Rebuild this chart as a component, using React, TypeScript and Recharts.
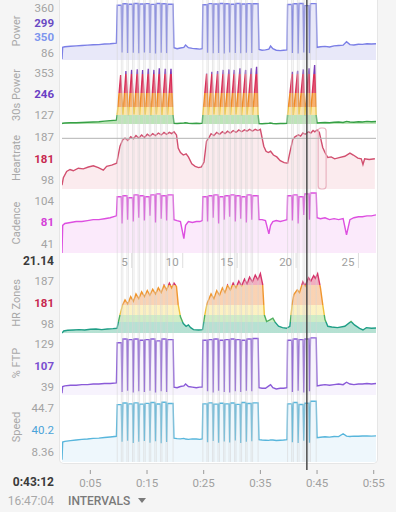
import React from 'react';
import { ComposedChart, LineChart, Line, Area, XAxis, YAxis, ReferenceLine, ReferenceArea } from 'recharts';

type Pt = [number, number];

const FONT = 'Roboto, "Noto Sans", sans-serif';
const W = 396;

// ---------- time axis ----------
const T_DOMAIN: [number, number] = [0, 55.4];
const TIME_TICKS = [5, 15, 25, 35, 45, 55];
const TIME_TICK_LABELS = ['0:05', '0:15', '0:25', '0:35', '0:45', '0:55'];
const CURSOR_T = 43.2;
const SELECTED_LAP = [45.2, 46.6];
const HR_REF = 172.6;

// distance axis (km reached at time t)
const DIST_KM = [5, 10, 15, 20, 25];
const DIST_T = [12.3, 21.3, 30.9, 41.3, 52.3];

// ---------- workout structure ----------
const BLOCK_STARTS = [
  [9.75, 10.74, 11.72, 12.71, 13.69, 14.68, 15.66, 16.65, 17.63, 18.62],
  [24.85, 25.83, 26.8, 27.78, 28.75, 29.73, 30.7, 31.68, 32.65, 33.63],
  [39.8, 40.81, 41.82, 42.83, 43.84],
];
const BLOCK_OFFS = [
  [10.47, 11.46, 12.44, 13.43, 14.41, 15.4, 16.38, 17.37, 18.35, 19.6],
  [25.57, 26.55, 27.52, 28.5, 29.47, 30.45, 31.42, 32.4, 33.37, 34.6],
  [40.52, 41.53, 42.54, 43.55, 44.85],
];
const T_WARM = [0, 0.12, 0.5, 1.5, 2.5, 3.5, 4.5, 5.5, 6.5, 7.5, 8.5, 9.6];
const T_STEADY = [
  [19.75, 20.3, 20.9, 21.5, 21.8, 22.3, 23.0, 23.7, 24.3, 24.75],
  [34.75, 35.3, 35.9, 36.5, 36.8, 37.2, 37.8, 38.5, 39.1, 39.7],
  [45.0, 45.6, 46.4, 47.2, 48.0, 48.8, 49.6, 50.2, 50.8, 51.5, 52.3, 53.0, 53.8, 54.6, 55.4],
];

// ---------- Power ----------
const POWER_WARM = [55, 120, 123, 126, 128, 130, 132, 134, 135, 138, 140, 143];
const POWER_HIGH = [
  [352, 360, 358, 362, 359, 361, 357, 362, 360, 358],
  [355, 361, 359, 362, 360, 358, 362, 359, 361, 360],
  [356, 360, 362, 350, 361],
];
const POWER_LOW = [
  [92, 88, 90, 87, 91, 88, 86, 90, 88],
  [90, 87, 89, 86, 91, 88, 87, 90, 89],
  [89, 86, 91, 88],
];
const POWER_STEADY = [
  [118, 112, 116, 120, 133, 118, 114, 112, 110, 112],
  [108, 104, 106, 110, 127, 112, 104, 102, 104, 106],
  [120, 123, 125, 122, 128, 130, 132, 151, 135, 133, 137, 136, 140, 138, 140],
];

// ---------- 30s Power ----------
const P30_WARM = [126, 127, 128, 129, 129, 130, 131, 132, 133, 135, 137, 139];
const P30_PEAK_T = [
  [10.35, 11.29, 12.29, 13.29, 14.23, 15.23, 16.23, 17.17, 18.23, 19.23],
  [25.52, 26.46, 27.46, 28.46, 29.46, 30.4, 31.4, 32.4, 33.4, 34.34],
  [40.64, 41.58, 42.58, 43.58, 44.58],
];
const P30_PEAK = [
  [314, 330, 334, 336, 334, 338, 334, 340, 338, 338],
  [320, 327, 330, 334, 336, 334, 340, 334, 340, 346],
  [327, 331, 336, 340, 353],
];
const P30_TROUGH = [
  [164, 160, 158, 161, 159, 160, 158, 161, 159, 160, 158],
  [163, 159, 161, 158, 160, 159, 161, 158, 160, 159, 160],
  [162, 159, 161, 158, 160, 159],
];
const P30_STEADY = [
  [127, 126, 127, 128, 129, 127, 126, 127, 126, 127],
  [126, 125, 126, 127, 128, 126, 125, 126, 126, 127],
  [128, 129, 130, 129, 131, 132, 130, 134, 132, 131, 133, 132, 134, 133, 134],
];

// ---------- Heartrate ----------
const HR_T = [
  0, 0.24, 0.82, 1.41, 2.0, 2.88, 3.76, 4.65, 5.53, 6.41, 7.29, 7.88, 8.76, 9.65,
  10.23, 10.7,
  11.12, 11.6, 12.12, 12.6, 13.05, 13.55, 14.05, 14.55, 15.05, 15.5, 16.0, 16.5, 17.0, 17.5, 18.0, 18.45, 18.94, 19.35, 19.76,
  20.2, 20.5, 20.9, 21.4, 21.9, 22.3, 22.9, 23.5, 24.1, 24.6, 25.05,
  25.5, 26.0, 26.3, 26.8, 27.3, 27.8, 28.3, 28.75, 29.2, 29.7, 30.2, 30.7, 31.2, 31.7, 32.2, 32.65, 33.1, 33.6, 34.1, 34.55, 35.0,
  35.6, 36.0, 36.4, 36.8, 37.3, 37.9, 38.5, 39.2, 39.8, 40.2,
  40.7, 41.1, 41.7, 42.1, 42.5, 42.9, 43.5, 43.9, 44.3, 44.6, 45.0, 45.4,
  46.0, 46.4, 46.9, 47.5, 48.1, 48.9, 49.9, 50.8, 51.4, 52.2, 52.8, 53.1, 53.4, 54.2, 55.2,
];
const HR_V = [
  98, 110, 120, 123, 121, 125, 124, 127, 129, 126, 122, 128, 130, 133,
  160, 170,
  173, 169, 175, 172, 177, 173, 178, 174, 179, 176, 180, 177, 181, 178, 182, 179, 182, 180, 183,
  178, 157, 150, 146, 148, 143, 132, 128, 126, 127, 135,
  168, 175, 180, 177, 182, 179, 183, 180, 184, 181, 185, 182, 186, 183, 186, 184, 187, 184, 187, 185, 187,
  160, 152, 150, 152, 146, 143, 137, 134, 133, 150,
  170, 175, 178, 176, 181, 179, 183, 181, 185, 183, 186, 182,
  158, 150, 142, 143, 140, 142, 144, 149, 146, 141, 140, 131, 140, 139, 140,
];

// ---------- Cadence ----------
const CAD_WARM = [41, 70, 72, 73, 74, 74, 75, 76, 76, 77, 78, 80];
const CAD_HIGH = [
  [100, 101, 99, 102, 101, 100, 102, 103, 101, 102],
  [100, 101, 102, 100, 101, 102, 101, 100, 102, 101],
  [101, 102, 100, 103, 104],
];
const CAD_LOW = [
  [72, 76, 74, 78, 75, 80, 73, 77, 75],
  [74, 78, 72, 76, 79, 74, 77, 73, 76],
  [75, 72, 81, 76],
];
const CAD_STEADY = [
  [76, 75, 74, 56, 70, 74, 73, 74, 74, 75],
  [76, 76, 75, 61, 70, 74, 75, 74, 75, 76],
  [78, 77, 78, 76, 77, 76, 77, 60, 76, 78, 79, 79, 80, 80, 81],
];

// ---------- HR Zones ----------
const HRZ_T = [
  0, 0.3, 1.0, 2.0, 3.0, 4.0, 5.0, 6.0, 7.0, 8.0, 9.0, 9.7,
  10.23, 10.7, 11.12, 11.6, 12.12, 12.6, 13.05, 13.55, 14.05, 14.55, 15.05, 15.5, 16.0, 16.5, 17.0, 17.5, 18.0, 18.45, 18.94, 19.35, 19.76,
  20.2, 20.5, 20.9, 21.4, 21.9, 22.3, 22.7, 23.2, 24.1, 24.8,
  25.2, 25.6, 26.3, 26.8, 27.3, 27.8, 28.3, 28.75, 29.2, 29.7, 30.2, 30.7, 31.2, 31.7, 32.2, 32.65, 33.1, 33.6, 34.1, 34.55, 35.0,
  35.4, 35.7, 36.1, 36.6, 37.2, 37.6, 38.2, 38.9, 39.6, 40.2,
  40.6, 40.9, 41.5, 41.9, 42.5, 42.9, 43.5, 43.9, 44.4, 44.7, 45.1, 45.6,
  46.0, 46.4, 46.9, 47.6, 48.6, 49.9, 51.0, 51.6, 52.5, 53.1, 53.7, 54.6, 55.4,
];
const HRZ_V = [
  98, 101, 102, 102.5, 103, 102.5, 103.5, 104, 103, 104, 104.5, 105,
  125, 140, 147, 141, 152, 145, 156, 149, 159, 152, 161, 154, 163, 156, 165, 158, 169, 162, 172, 165, 172,
  167, 140, 122, 112, 108, 110, 106, 103, 102.5, 103,
  125, 142, 156, 149, 161, 154, 165, 158, 169, 162, 172, 165, 175, 168, 178, 171, 181, 174, 184, 177, 186,
  170, 125, 115, 117, 120, 114, 108, 106, 105, 108,
  140, 155, 162, 158, 174, 168, 180, 175, 183, 179, 186, 165,
  140, 118, 108, 107, 106, 108, 115, 110, 105, 102.5, 106, 105, 105.5,
];

// ---------- % FTP ----------
const FTP_WARM = [38, 49, 50, 51, 51, 52, 52, 53, 53, 54, 54, 55];
const FTP_HIGH = [
  [121, 127, 126, 127, 125, 126, 127, 124, 127, 126],
  [125, 126, 127, 125, 126, 127, 126, 125, 127, 128],
  [125, 127, 126, 127, 129],
];
const FTP_LOW = [
  [40, 42, 39, 41, 40, 42, 39, 41, 40],
  [41, 39, 42, 40, 39, 41, 40, 42, 41],
  [40, 42, 39, 41],
];
const FTP_STEADY = [
  [48, 47, 49, 50, 53, 49, 48, 47, 48, 48],
  [47, 46, 46, 50, 52, 47, 45, 46, 46, 47],
  [50, 51, 52, 51, 52, 53, 52, 56, 53, 52, 53, 53, 54, 53, 54],
];

// ---------- Speed ----------
const SPEED_WARM = [8.4, 19.4, 19.8, 20.2, 20.6, 21.0, 21.2, 21.6, 21.8, 22.2, 22.5, 22.9];
const SPEED_HIGH = [
  [42.5, 43.5, 43.0, 43.6, 42.8, 43.3, 43.8, 42.9, 44.0, 43.2],
  [43.0, 43.6, 42.8, 43.4, 43.0, 43.5, 42.7, 43.8, 43.2, 43.6],
  [43.0, 43.8, 42.6, 43.4, 44.6],
];
const SPEED_LOW = [
  [19.5, 20.2, 18.8, 19.6, 20.0, 19.0, 19.8, 18.6, 19.4],
  [19.2, 20.0, 18.9, 19.7, 19.1, 20.3, 18.7, 19.5, 19.9],
  [19.3, 18.8, 20.1, 19.0],
];
const SPEED_STEADY = [
  [21.8, 21.5, 21.3, 21.6, 21.2, 21.0, 21.3, 21.2, 21.0, 21.3],
  [20.8, 20.6, 20.5, 20.4, 20.7, 20.6, 20.3, 20.5, 20.6, 20.8],
  [22.0, 22.3, 22.6, 22.4, 22.8, 22.7, 24.5, 23.0, 22.8, 23.0, 22.9, 23.1, 23.2, 23.0, 23.2],
];

// ---------- side labels ----------
const PANEL_NAMES = ['Power', '30s Power', 'Heartrate', 'Cadence', 'HR Zones', '% FTP', 'Speed'];
const PANEL_VALUES = [
  ['360', '299', '350', '86'],
  ['353', '246', '127'],
  ['187', '181', '98'],
  ['104', '81', '41'],
  ['187', '181', '98'],
  ['129', '107', '39'],
  ['44.7', '40.2', '8.36'],
];
const CURSOR_DISTANCE = '21.14';
const CURSOR_TIME = '0:43:12';
const CLOCK_TIME = '16:47:04';

// ---------- layout (pixels) ----------
const PLOT_TOP = 0;
const PLOT_BOTTOM = 470;
const BANDS: Record<string, [number, number]> = {
  power: [2, 60], p30: [64, 124], hr: [128, 189], cad: [192, 253],
  hrz: [273, 333], ftp: [336, 395], speed: [399, 462],
};
const RANGES: Record<string, [number, number]> = {
  power: [50, 370], p30: [124, 357], hr: [92, 189], cad: [41, 105],
  hrz: [98, 187], ftp: [35, 132], speed: [7, 46],
};
const NAME_Y = [31, 95, 157.5, 222.5, 302.5, 362.5, 426.7];
const VALUE_Y = [
  [8.3, 23.2, 37, 52.5], [72.5, 93.7, 115], [137.4, 158.5, 179.8], [200.8, 222.3, 243.5],
  [280.8, 302.5, 323.5], [344, 365.8, 386.8], [408.3, 430, 451.7],
];
const GRAY = '#a3a3a3';
const VALUE_STYLE: [string, boolean][][] = [
  [[GRAY, false], ['#6a4bc4', true], ['#7d95ee', true], [GRAY, false]],
  [[GRAY, false], ['#6a3fc4', true], [GRAY, false]],
  [[GRAY, false], ['#c7284f', true], [GRAY, false]],
  [[GRAY, false], ['#d43fd8', true], [GRAY, false]],
  [[GRAY, false], ['#c7284f', true], [GRAY, false]],
  [[GRAY, false], ['#7a4fd0', true], [GRAY, false]],
  [[GRAY, false], ['#4aa3d9', false], [GRAY, false]],
];

function axisDomain(key: string): [number, number] {
  const [top, bot] = BANDS[key];
  const [lo, hi] = RANGES[key];
  const s = (hi - lo) / (bot - top);
  return [lo - (PLOT_BOTTOM - bot) * s, hi + (top - PLOT_TOP) * s];
}
function yOf(key: string, v: number) {
  const [top, bot] = BANDS[key];
  const [lo, hi] = RANGES[key];
  return top + ((hi - v) / (hi - lo)) * (bot - top);
}

const DIP = 0.12;
function squareSeries(warm: number[], high: number[][], low: number[][], steady: number[][]): Pt[] {
  const pts: Pt[] = [];
  T_WARM.forEach((t, i) => pts.push([t, warm[i]]));
  for (let b = 0; b < 3; b++) {
    const s = BLOCK_STARTS[b];
    const o = BLOCK_OFFS[b];
    for (let k = 0; k < s.length; k++) {
      pts.push([s[k], high[b][k]]);
      pts.push([o[k], high[b][k]]);
      if (k < s.length - 1) pts.push([o[k] + DIP, low[b][k]]);
    }
    T_STEADY[b].forEach((t, i) => pts.push([t, steady[b][i]]));
  }
  return pts;
}
function p30Series(): Pt[] {
  const pts: Pt[] = [];
  T_WARM.forEach((t, i) => pts.push([t, P30_WARM[i]]));
  for (let b = 0; b < 3; b++) {
    const s = BLOCK_STARTS[b];
    for (let k = 0; k < s.length; k++) {
      pts.push([s[k], P30_TROUGH[b][k]]);
      pts.push([P30_PEAK_T[b][k], P30_PEAK[b][k]]);
    }
    pts.push([BLOCK_OFFS[b][s.length - 1], P30_TROUGH[b][s.length]]);
    T_STEADY[b].forEach((t, i) => pts.push([t, P30_STEADY[b][i]]));
  }
  return pts;
}
const zip = (ts: number[], vs: number[]): Pt[] => ts.map((t, i) => [t, vs[i]]);

const SERIES: Record<string, Pt[]> = {
  power: squareSeries(POWER_WARM, POWER_HIGH, POWER_LOW, POWER_STEADY),
  p30: p30Series(),
  hr: zip(HR_T, HR_V),
  cad: squareSeries(CAD_WARM, CAD_HIGH, CAD_LOW, CAD_STEADY),
  hrz: zip(HRZ_T, HRZ_V),
  ftp: squareSeries(FTP_WARM, FTP_HIGH, FTP_LOW, FTP_STEADY),
  speed: squareSeries(SPEED_WARM, SPEED_HIGH, SPEED_LOW, SPEED_STEADY),
};

const DATA = (() => {
  const map = new Map<string, any>();
  Object.entries(SERIES).forEach(([key, pts]) => {
    pts.forEach(([t, v]) => {
      const k = t.toFixed(3);
      if (!map.has(k)) map.set(k, { t: Number(k) });
      map.get(k)[key] = v;
    });
  });
  return Array.from(map.values()).sort((a, b) => a.t - b.t);
})();

const LAPS = [...BLOCK_STARTS.flat(), ...BLOCK_OFFS.flat()];

// zone thresholds (descending) and colours (top -> bottom)
const P30_ZONES = [318, 243, 191, 159];
const P30_LINE = ['#7a3db8', '#d9305a', '#f08a24', '#f2c530', '#36a046'];
const P30_FILL = ['#a27ad6', '#e6566f', '#f6a860', '#fce3a0', '#b6e2b0'];
const HRZ_ZONES = [169, 139.7, 124.7, 114.7];
const HRZ_LINE = ['#d6336a', '#f0962e', '#efc23a', '#4fb060', '#1f9e86'];
const HRZ_FILL = ['#ef9fb5', '#f9cba6', '#fcefb8', '#c7e9bb', '#a9dccb'];

function gradientStops(key: string, zones: number[], colors: string[]) {
  const stops: React.ReactElement[] = [];
  let prev = 0;
  colors.forEach((c, i) => {
    const end = i < zones.length ? yOf(key, zones[i]) / PLOT_BOTTOM : 1;
    stops.push(<stop key={`${i}a`} offset={prev} stopColor={c} />);
    stops.push(<stop key={`${i}b`} offset={end} stopColor={c} />);
    prev = end;
  });
  return stops;
}

const TimeTick = (props: any) => {
  const { x, y, payload } = props;
  const i = TIME_TICKS.indexOf(payload.value);
  return (
    <g>
      <line x1={x} x2={x} y1={y} y2={y + 4} stroke="#9a9a9a" strokeWidth={1} />
      <text x={x} y={y + 17} textAnchor="middle" fill="#a0a0a0" fontSize={11.5} fontFamily={FONT}>
        {TIME_TICK_LABELS[i]}
      </text>
    </g>
  );
};

const DistTick = (props: any) => {
  const { x, y, payload } = props;
  const i = DIST_T.indexOf(payload.value);
  return (
    <g>
      <line x1={x} x2={x} y1={y} y2={y + 15} stroke="#dedede" strokeWidth={1} />
      <text x={x - 4} y={y + 13} textAnchor="end" fill="#a0a0a0" fontSize={11.5} fontFamily={FONT}>
        {DIST_KM[i]}
      </text>
    </g>
  );
};

const STYLES: Record<string, { stroke: string; fill: string; op: number }> = {
  power: { stroke: '#7b7fe6', fill: '#dedef6', op: 0.7 },
  hr: { stroke: '#d24f6f', fill: '#f8dde3', op: 0.6 },
  cad: { stroke: '#dd4fe0', fill: '#f8dcf8', op: 0.6 },
  ftp: { stroke: '#8a5ad8', fill: '#efe8fb', op: 0.5 },
  speed: { stroke: '#58b6dc', fill: '#e2f2fa', op: 0.6 },
};

export default function App() {
  const speedDom = axisDomain('speed');
  return (
    <div style={{ position: 'fixed', left: 0, top: 0, width: W, height: 512, background: '#f5f5f5', overflow: 'hidden', fontFamily: FONT }}>
      <div style={{ position: 'absolute', left: 60, top: 0, width: 317, height: 463, background: '#ffffff', borderRadius: '0 0 4px 4px', boxShadow: '0 0 0 1px #e6e6e6' }} />

      <div style={{ position: 'absolute', left: 0, top: 0 }}>
        <ComposedChart width={W} height={505} data={DATA} margin={{ top: PLOT_TOP, right: 20, left: 62, bottom: 5 }}>
          <defs>
            <linearGradient id="p30Line" gradientUnits="userSpaceOnUse" x1={0} y1={0} x2={0} y2={PLOT_BOTTOM}>
              {gradientStops('p30', P30_ZONES, P30_LINE)}
            </linearGradient>
            <linearGradient id="p30Fill" gradientUnits="userSpaceOnUse" x1={0} y1={0} x2={0} y2={PLOT_BOTTOM}>
              {gradientStops('p30', P30_ZONES, P30_FILL)}
            </linearGradient>
            <linearGradient id="hrzLine" gradientUnits="userSpaceOnUse" x1={0} y1={0} x2={0} y2={PLOT_BOTTOM}>
              {gradientStops('hrz', HRZ_ZONES, HRZ_LINE)}
            </linearGradient>
            <linearGradient id="hrzFill" gradientUnits="userSpaceOnUse" x1={0} y1={0} x2={0} y2={PLOT_BOTTOM}>
              {gradientStops('hrz', HRZ_ZONES, HRZ_FILL)}
            </linearGradient>
          </defs>
          <XAxis
            dataKey="t" type="number" domain={T_DOMAIN} ticks={TIME_TICKS} interval={0}
            axisLine={false} tickLine={false} tickSize={0} tickMargin={0} height={30}
            tick={<TimeTick />} allowDataOverflow
          />
          {Object.keys(BANDS).map((k) => (
            <YAxis key={k} yAxisId={k} hide type="number" domain={axisDomain(k)} allowDataOverflow />
          ))}
          {LAPS.map((t, i) => (
            <ReferenceLine
              key={`lap${i}`} yAxisId="speed" ifOverflow="visible"
              segment={[{ x: t, y: RANGES.speed[0] }, { x: t, y: speedDom[1] }]}
              stroke="#d6d6d6" strokeOpacity={0.55} strokeWidth={1}
            />
          ))}
          <ReferenceLine yAxisId="hr" y={HR_REF} stroke="#b4b4b4" strokeWidth={1} />

          {['power', 'hr', 'cad', 'ftp', 'speed'].map((k) => (
            <Area
              key={k} yAxisId={k} dataKey={k} type="linear" baseValue={RANGES[k][0]}
              stroke={STYLES[k].stroke} strokeWidth={1.4} fill={STYLES[k].fill} fillOpacity={STYLES[k].op}
              connectNulls dot={false} activeDot={false} isAnimationActive={false}
            />
          ))}
          <Area
            yAxisId="p30" dataKey="p30" type="linear" baseValue={RANGES.p30[0]}
            stroke="url(#p30Line)" strokeWidth={1.4} fill="url(#p30Fill)" fillOpacity={0.9}
            connectNulls dot={false} activeDot={false} isAnimationActive={false}
          />
          <Area
            yAxisId="hrz" dataKey="hrz" type="linear" baseValue={RANGES.hrz[0]}
            stroke="url(#hrzLine)" strokeWidth={1.4} fill="url(#hrzFill)" fillOpacity={0.85}
            connectNulls dot={false} activeDot={false} isAnimationActive={false}
          />
          <ReferenceArea
            yAxisId="hr" x1={SELECTED_LAP[0]} x2={SELECTED_LAP[1]} y1={RANGES.hr[0]} y2={RANGES.hr[1]}
            fill="none" stroke="#e9b3c0" strokeWidth={1.2} radius={3} ifOverflow="visible"
          />
          <ReferenceLine yAxisId="speed" x={CURSOR_T} stroke="#4a4a4a" strokeWidth={1.5} />
        </ComposedChart>
      </div>

      <div style={{ position: 'absolute', left: 0, top: 233 }}>
        <LineChart width={W} height={41} data={DIST_T.map((t, i) => ({ t, km: DIST_KM[i] }))} margin={{ top: 0, right: 20, left: 62, bottom: 1 }}>
          <XAxis
            dataKey="t" type="number" domain={T_DOMAIN} ticks={DIST_T} interval={0}
            axisLine={false} tickLine={false} tickSize={0} tickMargin={0} height={20}
            tick={<DistTick />} allowDataOverflow
          />
          <YAxis hide domain={[0, 30]} />
          <Line dataKey="km" stroke="none" dot={false} activeDot={false} isAnimationActive={false} />
        </LineChart>
      </div>

      {PANEL_NAMES.map((n, i) => (
        <div key={n} style={{
          position: 'absolute', left: 16.5, top: NAME_Y[i], transform: 'translate(-50%, -50%) rotate(-90deg)',
          whiteSpace: 'nowrap', fontSize: 11, color: '#a8a8a8', lineHeight: '12px',
        }}>{n}</div>
      ))}
      {PANEL_VALUES.map((vals, i) => vals.map((v, j) => (
        <div key={`${i}-${j}`} style={{
          position: 'absolute', right: W - 54, top: VALUE_Y[i][j] - 7, lineHeight: '14px',
          fontSize: 11.5, color: VALUE_STYLE[i][j][0], fontWeight: VALUE_STYLE[i][j][1] ? 700 : 400, whiteSpace: 'nowrap',
        }}>{v}</div>
      )))}
      <div style={{ position: 'absolute', right: W - 54, top: 254, lineHeight: '14px', fontSize: 12, fontWeight: 700, color: '#3a3a3a' }}>{CURSOR_DISTANCE}</div>
      <div style={{ position: 'absolute', right: W - 54, top: 475, lineHeight: '14px', fontSize: 12, fontWeight: 700, color: '#3a3a3a' }}>{CURSOR_TIME}</div>
      <div style={{ position: 'absolute', right: W - 54, top: 493.5, lineHeight: '14px', fontSize: 12, color: '#a8a8a8' }}>{CLOCK_TIME}</div>
      <div style={{ position: 'absolute', left: 68, top: 493.5, lineHeight: '14px', fontSize: 12, fontWeight: 500, color: '#7a7a7a', display: 'flex', alignItems: 'center' }}>
        INTERVALS
        <span style={{ display: 'inline-block', marginLeft: 8, width: 0, height: 0, borderLeft: '4.5px solid transparent', borderRight: '4.5px solid transparent', borderTop: '5px solid #7a7a7a' }} />
      </div>
    </div>
  );
}
